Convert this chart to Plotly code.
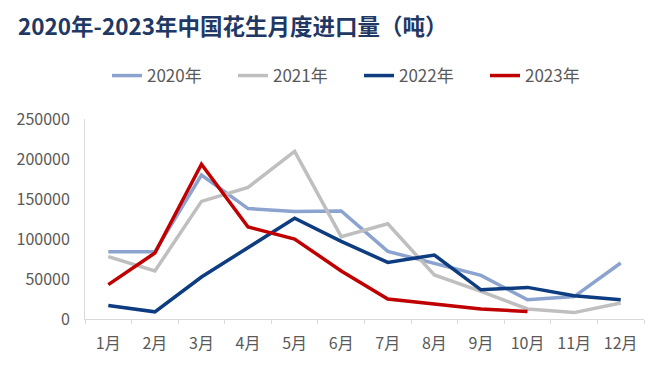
import plotly.graph_objects as go

months = ["1月", "2月", "3月", "4月", "5月", "6月", "7月", "8月", "9月", "10月", "11月", "12月"]
y2020 = [84000, 84000, 180000, 138000, 134500, 135000, 84500, 70000, 54500, 24000, 28000, 70000]
y2021 = [78000, 60000, 147000, 164500, 209500, 103000, 119000, 55000, 34500, 12500, 8000, 20000]
y2022 = [17000, 9000, 52500, 89500, 126000, 97000, 70800, 80000, 36500, 39500, 29000, 24000]
y2023 = [43000, 82500, 193500, 115000, 100000, 60000, 25000, 19000, 12500, 9500]
series_names = ["2020年", "2021年", "2022年", "2023年"]
colors = ["#8BA3CE", "#BFBFBF", "#0D3C80", "#C00000"]

fig = go.Figure()
for name, vals, c in zip(series_names, [y2020, y2021, y2022, y2023], colors):
    fig.add_trace(go.Scatter(x=months[:len(vals)], y=vals, mode="lines", name=name,
                             line=dict(color=c, width=3.5)))

fig.update_layout(
    width=668, height=368,
    margin=dict(l=85, r=24, t=119, b=49, autoexpand=False),
    paper_bgcolor="white", plot_bgcolor="white",
    font=dict(family="Noto Sans CJK SC, sans-serif", color="#595959"),
    title=dict(text="<b>2020年-2023年中国花生月度进口量（吨）</b>",
               x=18 / 668, xanchor="left", xref="container", y=1 - 27 / 368, yref="container",
               yanchor="middle",
               font=dict(size=22.5, color="#1F3864")),
    showlegend=True,
    legend=dict(orientation="h", x=107 / 668, xanchor="left", xref="container",
                y=1 - 76 / 368, yref="container", yanchor="middle",
                font=dict(size=17, color="#595959"),
                entrywidth=81, entrywidthmode="pixels", bgcolor="rgba(0,0,0,0)"),
    xaxis=dict(type="category", showgrid=False, showline=True, linecolor="#D9D9D9",
               ticks="outside", tickson="boundaries", ticklen=4, tickcolor="#D9D9D9",
               ticklabelstandoff=10,
               tickfont=dict(size=16, color="#595959"), range=[-0.5, 11.5]),
    yaxis=dict(range=[0, 250000], dtick=50000, showgrid=False, showline=True,
               linecolor="#D9D9D9", zeroline=False, ticks="", ticklabelstandoff=11,
               tickfont=dict(size=16, color="#595959"), tickformat="d"),
)
fig.write_html("out.html", config={"displayModeBar": False},
               post_script="document.body.style.margin='0';")
